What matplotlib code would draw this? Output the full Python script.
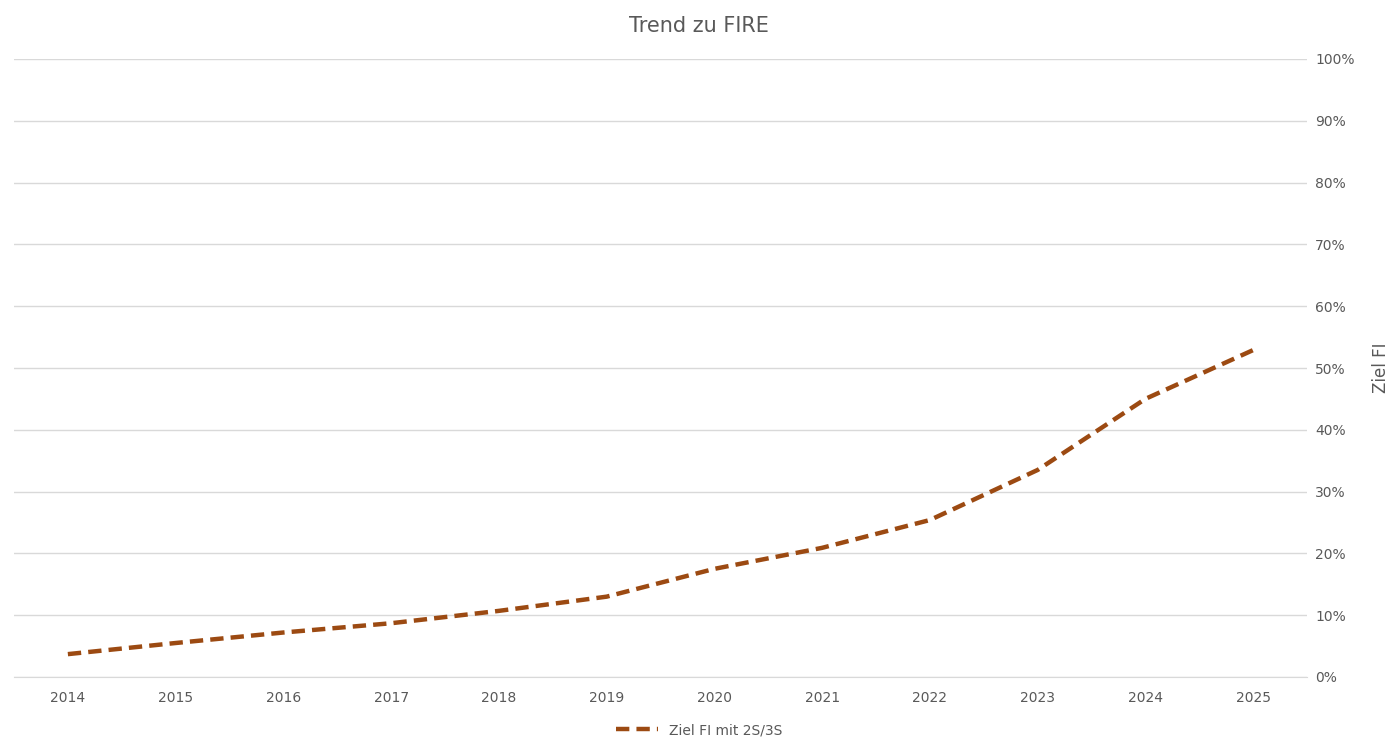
import matplotlib
matplotlib.use("Agg")
import matplotlib.pyplot as plt
from matplotlib.ticker import PercentFormatter

years = ["2014","2015","2016","2017","2018","2019","2020","2021","2022","2023","2024","2025"]
ziel_fi = [3.7, 5.5, 7.2, 8.7, 10.7, 13.0, 17.5, 20.9, 25.4, 33.5, 45.0, 52.9]

fig = plt.figure(figsize=(13.98, 7.52), dpi=100)
ax = fig.add_axes([14/1398, 1-677/752, (1307-14)/1398, (677-59)/752])
x = list(range(len(years)))
ax.plot(x, ziel_fi, color="#9C4A12", lw=3.2, ls=(0, (3, 1.6)), label="Ziel FI mit 2S/3S")
ax.set_xlim(-0.5, len(years)-0.5)
ax.set_ylim(0, 100)
ax.set_xticks(x)
ax.set_xticklabels(years)
ax.set_yticks(range(0, 101, 10))
ax.yaxis.set_major_formatter(PercentFormatter(decimals=0))
ax.yaxis.tick_right()
ax.yaxis.set_label_position("right")
ax.set_ylabel("Ziel FI", color="#595959", fontsize=12, labelpad=12)
ax.grid(axis="y", color="#D9D9D9", lw=1)
ax.set_axisbelow(True)
for s in ["top", "left", "right"]:
    ax.spines[s].set_visible(False)
ax.spines["bottom"].set_color("#D9D9D9")
ax.tick_params(length=0, labelcolor="#595959", labelsize=10, pad=10)
ax.tick_params(axis="y", pad=6)
fig.text(0.5, 1-26/752, "Trend zu FIRE", ha="center", va="center", fontsize=15, color="#595959")
fig.legend(loc="center", bbox_to_anchor=(0.5, 1-730/752), frameon=False, fontsize=10,
           labelcolor="#595959", handlelength=3)
fig.savefig("out.png", dpi=100, facecolor="white")
